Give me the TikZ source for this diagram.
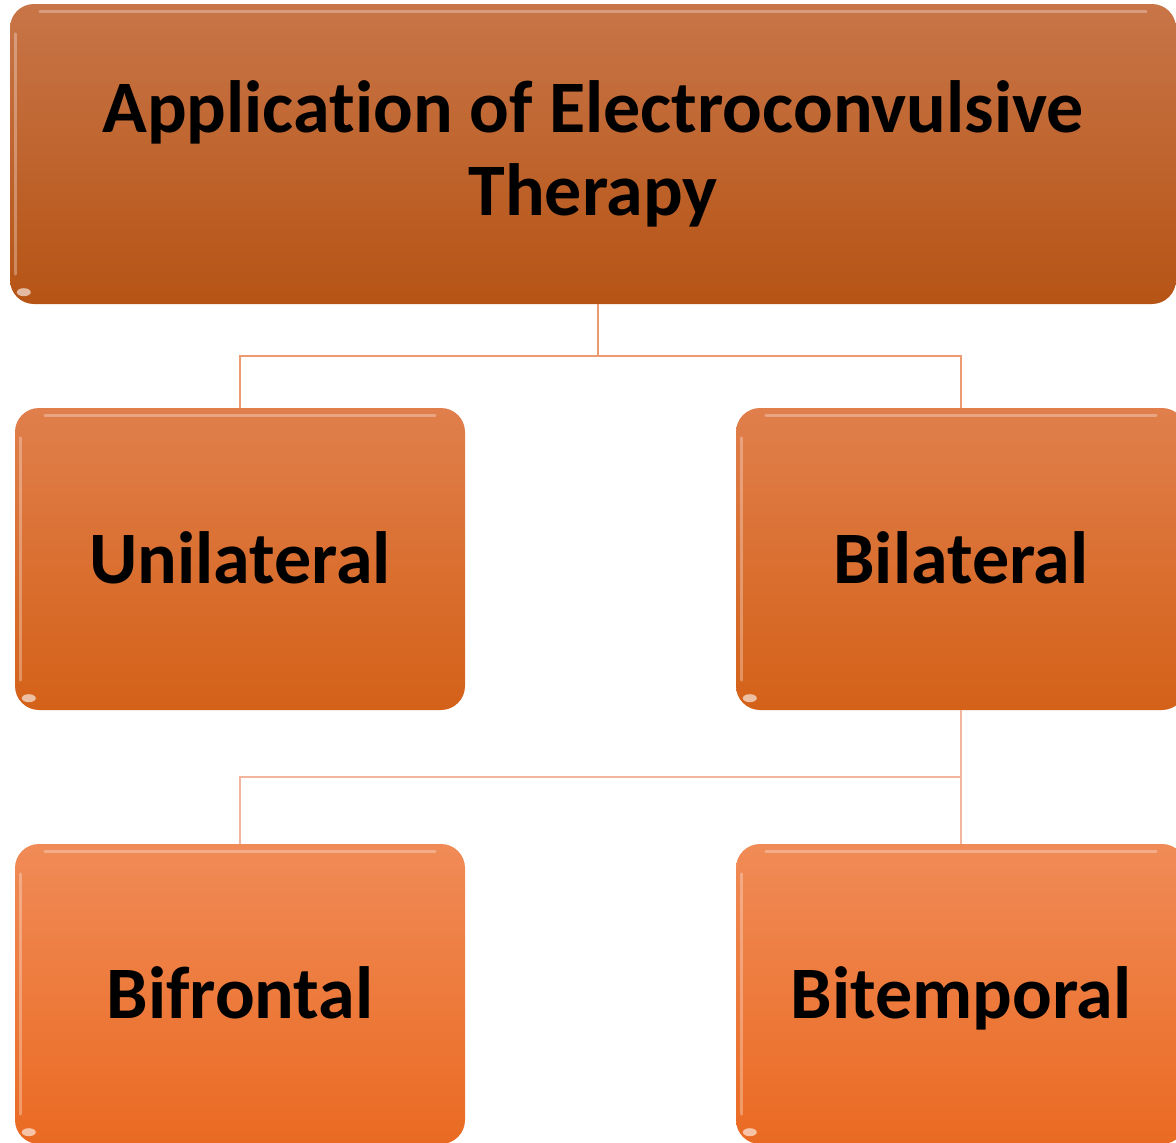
\documentclass[tikz,border=0pt]{standalone}
\usepackage{fontspec}
\setmainfont{Carlito}[Ligatures=NoCommon]
\begin{document}
\begin{tikzpicture}[x=1pt,y=-1pt,
  box/.style={rounded corners=24pt,minimum width=#1,draw=none,font=\bfseries\fontsize{74}{83}\selectfont,text=black,inner sep=0pt},
  topbox/.style={box=1166pt,minimum height=300pt,top color=topA,bottom color=topB,align=center},
  midbox/.style={box=450pt,minimum height=302pt,top color=midA,bottom color=midB,text height=62pt,text depth=14pt},
  lowbox/.style={box=450pt,minimum height=300pt,top color=lowA,bottom color=lowB,text height=62pt,text depth=14pt},
  linkA/.style={draw=linkcA,line width=2.5pt},
  linkB/.style={draw=linkcB,line width=2.5pt},
  gloss/.style={draw=white,line width=3pt,opacity=0.3,line cap=round}]
\definecolor{topA}{HTML}{C87548}
\definecolor{topB}{HTML}{B65415}
\definecolor{midA}{HTML}{E07F4C}
\definecolor{midB}{HTML}{D46118}
\definecolor{lowA}{HTML}{F08B57}
\definecolor{lowB}{HTML}{EA6A22}
\definecolor{linkcA}{HTML}{EB9A72}
\definecolor{linkcB}{HTML}{F3B69C}
\useasboundingbox (0,0) rectangle (1176,1143);
% connectors
\coordinate (j1) at (598,356);
\coordinate (jL) at (240,356);
\coordinate (jR) at (961,356);
\coordinate (j2) at (961,777);
\coordinate (j3) at (240,777);
\node[topbox] (top) at (593,154) {Application of Electroconvulsive\\Therapy};
\node[midbox] (uni) at (240,559) {Unilateral};
\node[midbox] (bil) at (961,559) {Bilateral};
\node[lowbox] (bif) at (240,994) {Bifrontal};
\node[lowbox] (bit) at (961,994) {Bitemporal};
\draw[linkA] (top.south -| j1) -- (j1) -- (jL) -- (uni.north);
\draw[linkA] (j1) -- (jR) -- (bil.north);
\draw[linkB] (bil.south) -- (j2) -- (bit.north);
\draw[linkB] (j2) -- (j3) -- (bif.north);
% gloss highlights
\foreach \n in {top,uni,bil,bif,bit}{
  \draw[gloss] ([xshift=30pt,yshift=-8pt]\n.north west) -- ([xshift=-30pt,yshift=-8pt]\n.north east);
  \draw[gloss] ([xshift=6pt,yshift=-30pt]\n.north west) -- ([xshift=6pt,yshift=30pt]\n.south west);
  \fill[white,opacity=0.6] ([xshift=14pt,yshift=12pt]\n.south west) ellipse (7pt and 4pt);
}
\end{tikzpicture}
\end{document}
